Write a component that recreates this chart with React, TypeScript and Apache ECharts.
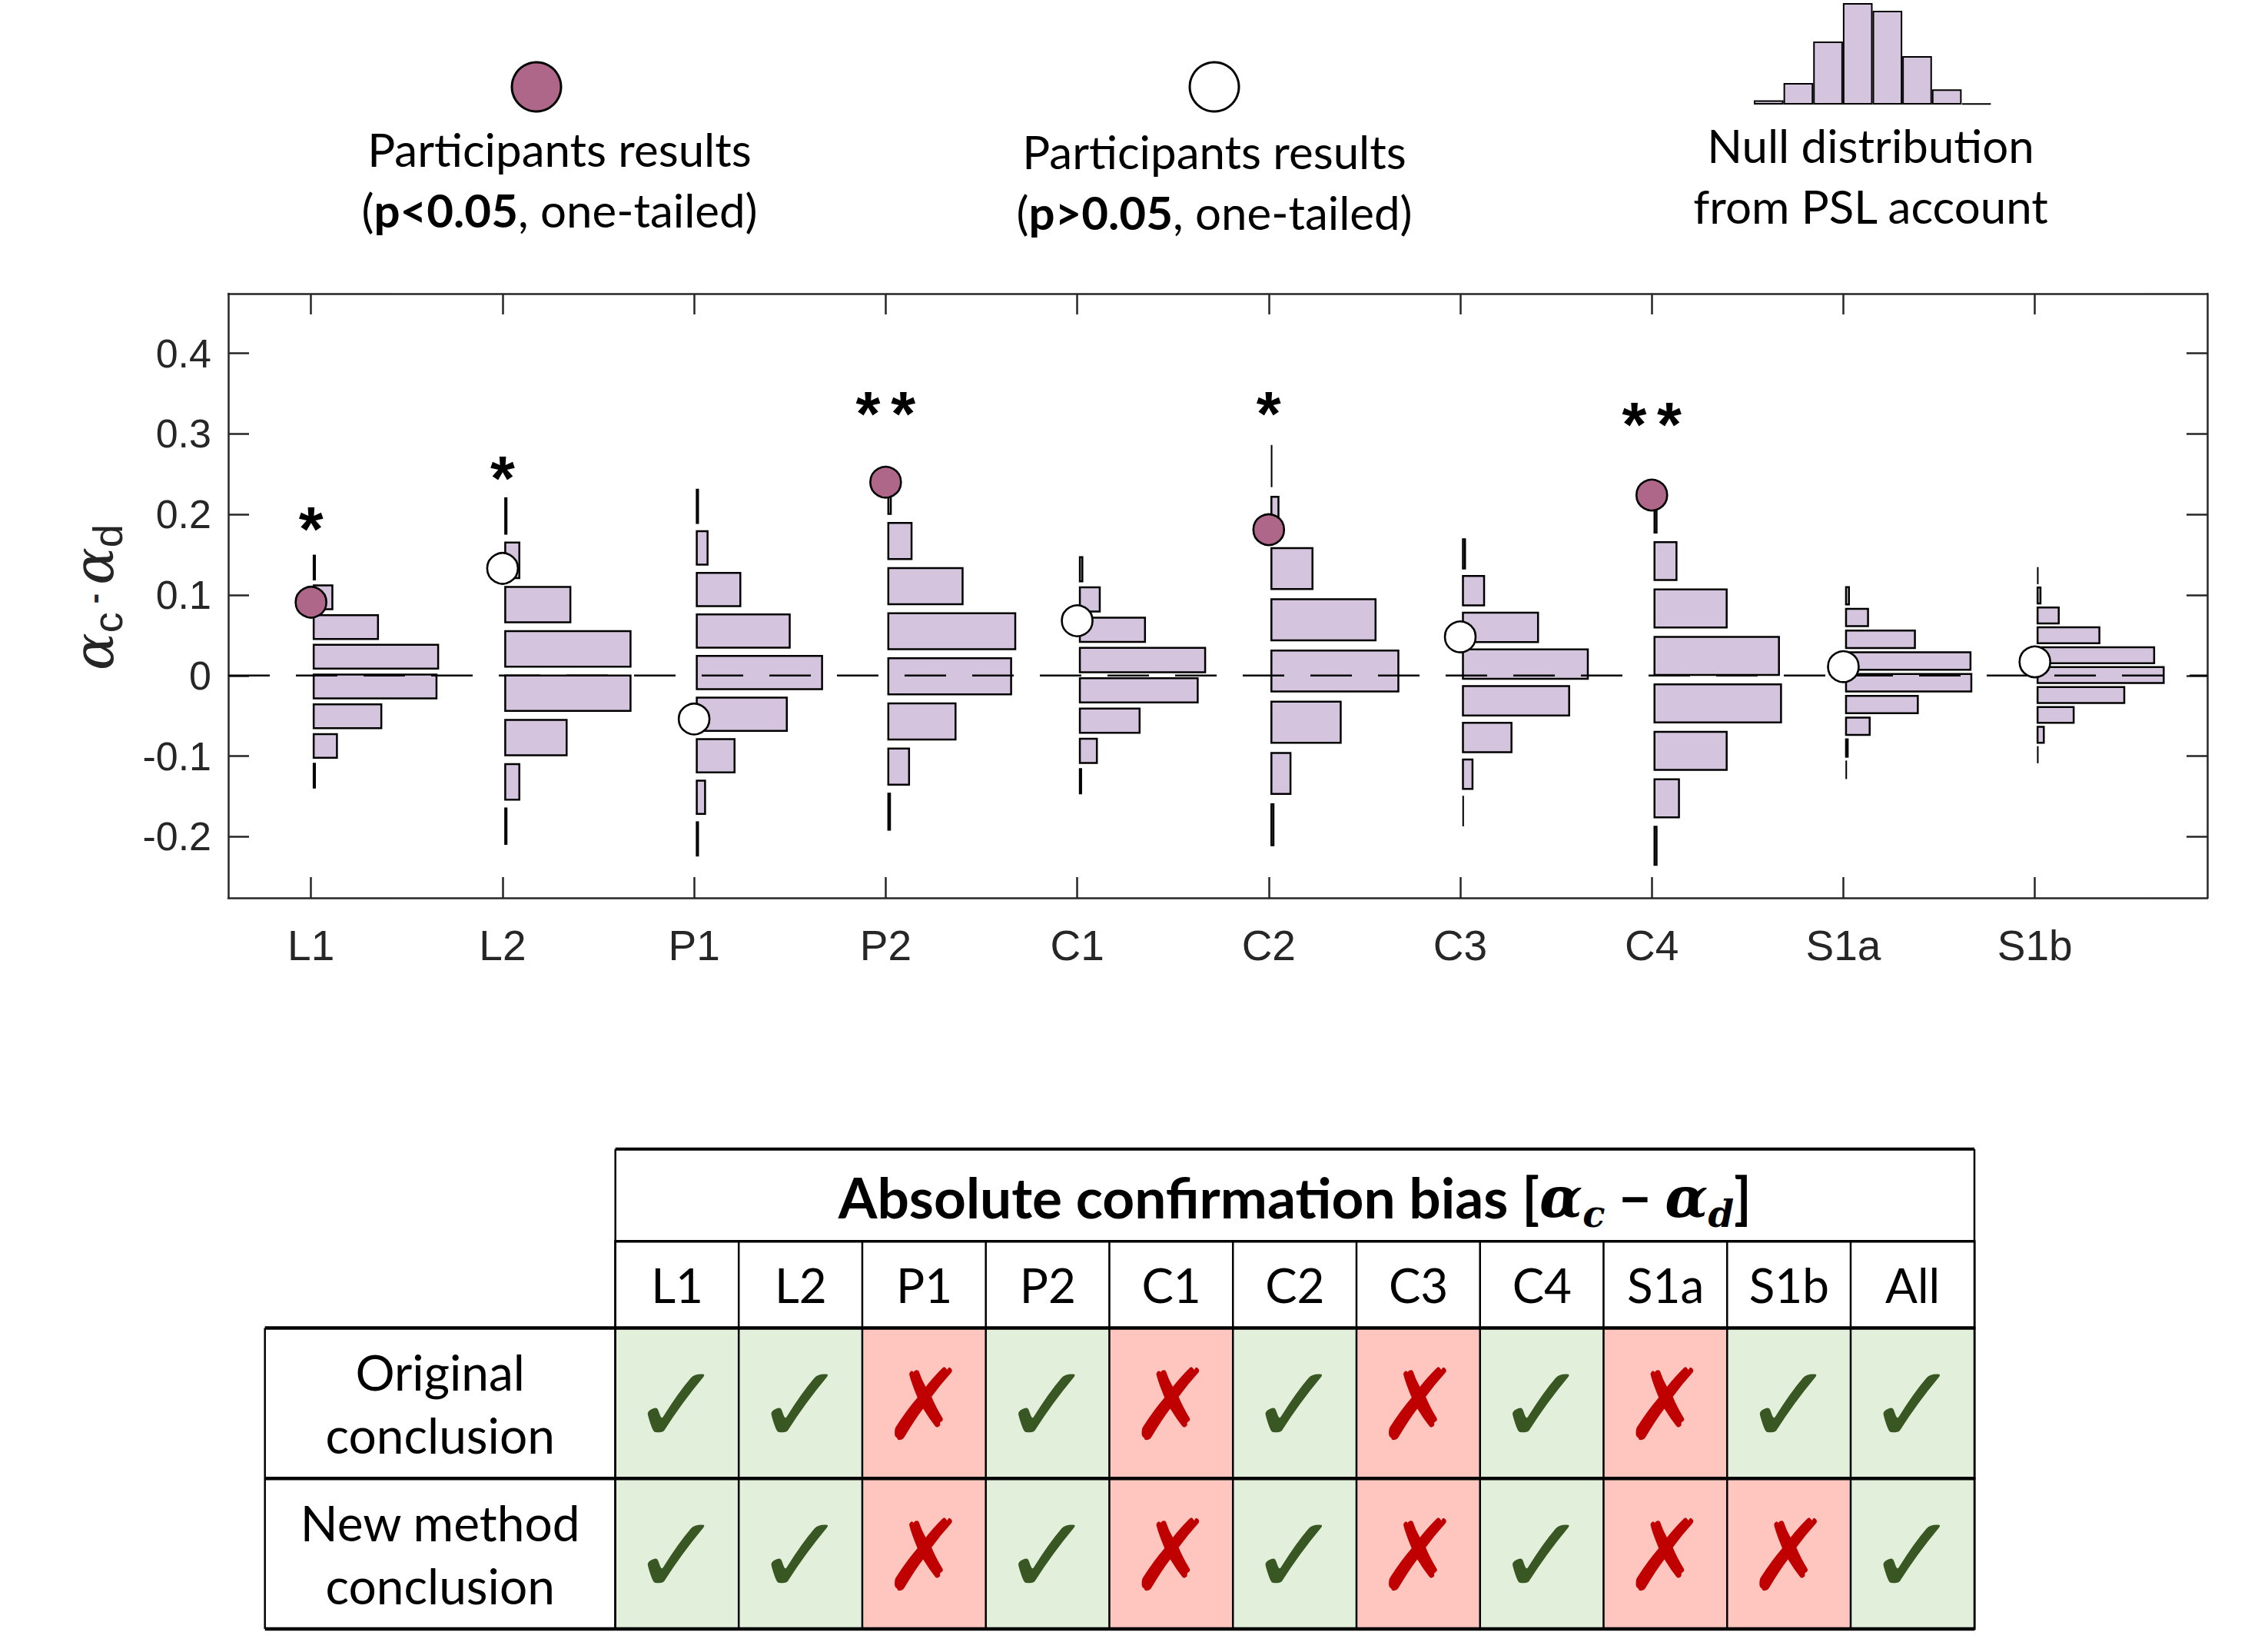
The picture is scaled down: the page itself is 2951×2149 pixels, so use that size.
import React, { useEffect, useRef } from 'react';
import * as echarts from 'echarts';

// ---------- data ----------
const CONDITIONS = ['L1', 'L2', 'P1', 'P2', 'C1', 'C2', 'C3', 'C4', 'S1a', 'S1b'];

// Participants' absolute confirmation bias (alpha_c - alpha_d) per condition
const PARTICIPANT_BIAS = [0.091, 0.133, -0.054, 0.24, 0.068, 0.181, 0.048, 0.224, 0.011, 0.017];
// one-tailed test against the null distribution: p < 0.05
const SIGNIFICANT = [true, false, false, true, false, true, false, true, false, false];
// significance stars and their height
const STARS = ['*', '*', '', '**', '', '*', '', '**', '', ''];
const STAR_Y = [0.191, 0.254, 0, 0.334, 0, 0.334, 0, 0.321, 0, 0];

// Null distributions from the PSL account:
// centre of the top bin, bin width, share of simulations per bin (top to bottom)
const NULL_TOP_BIN = [0.134, 0.198, 0.21, 0.223, 0.132, 0.26, 0.151, 0.201, 0.099, 0.124];
const NULL_BIN_WIDTH = [0.0369, 0.055, 0.0516, 0.056, 0.0376, 0.0636, 0.0456, 0.0589, 0.027, 0.0247];
const NULL_L1 = [0.003, 0.045, 0.155, 0.3, 0.296, 0.163, 0.056, 0.003];
const NULL_L2 = [0.003, 0.034, 0.157, 0.302, 0.302, 0.148, 0.034, 0.003];
const NULL_P1 = [0.003, 0.026, 0.105, 0.224, 0.302, 0.217, 0.091, 0.02, 0.003];
const NULL_P2 = [0.006, 0.056, 0.179, 0.306, 0.296, 0.162, 0.05, 0.004];
const NULL_C1 = [0.006, 0.048, 0.157, 0.302, 0.284, 0.144, 0.041, 0.003];
const NULL_C2 = [0.001, 0.017, 0.099, 0.251, 0.306, 0.167, 0.046, 0.005];
const NULL_C3 = [0.005, 0.051, 0.181, 0.301, 0.256, 0.117, 0.023, 0.001];
const NULL_C4 = [0.005, 0.053, 0.174, 0.3, 0.305, 0.174, 0.059, 0.005];
const NULL_S1A = [0.007, 0.053, 0.166, 0.3, 0.302, 0.173, 0.057, 0.004, 0.001];
const NULL_S1B = [0.001, 0.007, 0.051, 0.149, 0.281, 0.304, 0.209, 0.087, 0.015, 0.001];
const NULL_SHARES = [NULL_L1, NULL_L2, NULL_P1, NULL_P2, NULL_C1, NULL_C2, NULL_C3, NULL_C4, NULL_S1A, NULL_S1B];

const Y_TICKS = [-0.2, -0.1, 0, 0.1, 0.2, 0.3, 0.4];

// Shape of the null distribution used as a legend icon (relative heights)
const LEGEND_NULL_SHAPE = [4.2, 21.3, 62.1, 100, 92.4, 47.7, 15.0, 1.0];

// Conclusions table (1 = bias confirmed, 0 = not confirmed)
const TABLE_COLUMNS = ['L1', 'L2', 'P1', 'P2', 'C1', 'C2', 'C3', 'C4', 'S1a', 'S1b', 'All'];
const TABLE_ROW_LABELS = ['Original\nconclusion', 'New method\nconclusion'];
const ORIGINAL_CONCLUSION = [1, 1, 0, 1, 0, 1, 0, 1, 0, 1, 1];
const NEW_METHOD_CONCLUSION = [1, 1, 0, 1, 0, 1, 0, 1, 0, 0, 1];
const HEADER_CODE = 2; // header cells are plain white

// ---------- styles / layout ----------
const AXIS_COLOR = '#262626';
const LAVENDER = '#D5C4DE';
const MAUVE = '#AE6689';
const CELL_YES = '#E2EFDA';
const CELL_NO = '#FFC6BF';
const MARK_YES = '#385723';
const MARK_NO = '#C00000';

const X_MIN = 0.568;
const X_MAX = 10.9;
const Y_MIN = -0.276;
const Y_MAX = 0.474;
const HIST_OFFSET = 0.014; // histograms start just right of each condition tick
const HIST_SCALE = 2.166; // x units per unit share
const BAR_FILL = 0.8; // bar height as a fraction of the bin width

const MAIN = { left: 297, top: 382, width: 2575, height: 786 };
const TBL = { left: 344.7, labelRight: 800.7, right: 2569, top: 1494.7, titleBottom: 1614.7, headBottom: 1727.5, mid: 1923.2, bottom: 2118.9 };

const CAT_POS = CONDITIONS.map((_, i) => i + 1);

function buildOption() {
  const histData: number[][] = [];
  NULL_SHARES.forEach((shares, i) => {
    shares.forEach((share, j) => {
      histData.push([i + 1, NULL_TOP_BIN[i] - j * NULL_BIN_WIDTH[i], share, NULL_BIN_WIDTH[i]]);
    });
  });

  const markerData = PARTICIPANT_BIAS.map((v, i) => ({
    value: [i + 1, v],
    itemStyle: { color: SIGNIFICANT[i] ? MAUVE : '#ffffff' },
  }));

  // stars are spaced a little apart
  const starData = STARS.map((s, i) => ({ s, i }))
    .filter((d) => d.s.length > 0)
    .map((d) => ({ value: [d.i + 1, STAR_Y[d.i]], name: d.s.split('').join('\u2006') }));

  const bodyData: any[] = [];
  [ORIGINAL_CONCLUSION, NEW_METHOD_CONCLUSION].forEach((row, r) => {
    row.forEach((v, c) => {
      bodyData.push({
        value: [c, r, v],
        label: v
          ? { color: MARK_YES, fontSize: 142, offset: [0, 2] }
          : { color: MARK_NO, fontSize: 128, offset: [0, 2] },
      });
    });
  });

  const mainXAxis = (position: string, labels: boolean) => ({
    gridIndex: 0,
    type: 'value',
    min: X_MIN,
    max: X_MAX,
    position,
    axisLine: { show: true, onZero: false, lineStyle: { color: AXIS_COLOR, width: 2.5 } },
    axisTick: { show: true, inside: true, length: 27, customValues: CAT_POS, lineStyle: { color: AXIS_COLOR, width: 2.5 } },
    axisLabel: labels
      ? {
          show: true,
          customValues: CAT_POS,
          formatter: (v: number) => CONDITIONS[Math.round(v) - 1],
          margin: 34,
          fontSize: 55,
          color: AXIS_COLOR,
          fontFamily: 'Liberation Sans',
        }
      : { show: false },
    splitLine: { show: false },
  });

  const mainYAxis = (position: string, labels: boolean) => ({
    gridIndex: 0,
    type: 'value',
    min: Y_MIN,
    max: Y_MAX,
    position,
    axisLine: { show: true, onZero: false, lineStyle: { color: AXIS_COLOR, width: 2.5 } },
    axisTick: { show: true, inside: true, length: 27, customValues: Y_TICKS, lineStyle: { color: AXIS_COLOR, width: 2.5 } },
    axisLabel: labels
      ? {
          show: true,
          customValues: Y_TICKS,
          formatter: (v: number) => (Math.abs(v) < 1e-9 ? '0' : v.toFixed(1)),
          margin: 22,
          fontSize: 52,
          color: AXIS_COLOR,
          fontFamily: 'Liberation Sans',
        }
      : { show: false },
    splitLine: { show: false },
  });

  const lato = 'Lato';

  const graphic: any[] = [
    // legend: participants' markers
    { type: 'circle', shape: { cx: 698, cy: 113, r: 32 }, style: { fill: MAUVE, stroke: '#000', lineWidth: 3 } },
    { type: 'circle', shape: { cx: 1580, cy: 113, r: 32 }, style: { fill: '#fff', stroke: '#000', lineWidth: 3 } },
    { type: 'text', x: 728, y: 194, style: { text: 'Participants results', fontSize: 60, fontFamily: lato, fill: '#000', align: 'center', verticalAlign: 'middle' } },
    {
      type: 'text', x: 728, y: 273,
      style: {
        text: '{n|(}{b|p<0.05}{n|, one-tailed)}', align: 'center', verticalAlign: 'middle',
        rich: { n: { fontSize: 60, fontFamily: lato, fill: '#000' }, b: { fontSize: 60, fontFamily: lato, fontWeight: 'bold', fill: '#000' } },
      },
    },
    { type: 'text', x: 1580, y: 197, style: { text: 'Participants results', fontSize: 60, fontFamily: lato, fill: '#000', align: 'center', verticalAlign: 'middle' } },
    {
      type: 'text', x: 1580, y: 276,
      style: {
        text: '{n|(}{b|p>0.05}{n|, one-tailed)}', align: 'center', verticalAlign: 'middle',
        rich: { n: { fontSize: 60, fontFamily: lato, fill: '#000' }, b: { fontSize: 60, fontFamily: lato, fontWeight: 'bold', fill: '#000' } },
      },
    },
    { type: 'text', x: 2434, y: 189, style: { text: 'Null distribution', fontSize: 60, fontFamily: lato, fill: '#000', align: 'center', verticalAlign: 'middle' } },
    { type: 'text', x: 2434, y: 268, style: { text: 'from PSL account', fontSize: 60, fontFamily: lato, fill: '#000', align: 'center', verticalAlign: 'middle' } },
    // y axis title
    {
      type: 'text', x: 122, y: 777, rotation: Math.PI / 2,
      style: {
        text: '{a|α}{s|c}{m| - }{a|α}{s|d}', align: 'center', verticalAlign: 'middle',
        rich: {
          a: { fontSize: 72, fontFamily: 'DejaVu Serif', fontStyle: 'italic', fill: AXIS_COLOR, lineHeight: 90, verticalAlign: 'middle' },
          s: { fontSize: 54, fontFamily: 'Liberation Sans', fill: AXIS_COLOR, lineHeight: 54, verticalAlign: 'bottom' },
          m: { fontSize: 40, fontFamily: 'Liberation Sans', fontWeight: 'bold', fill: AXIS_COLOR, lineHeight: 90, verticalAlign: 'middle' },
        },
      },
    },
    // table title row
    {
      type: 'text', x: (TBL.labelRight + TBL.right) / 2, y: (TBL.top + TBL.titleBottom) / 2 + 2, z: 120,
      style: {
        text: '{t|Absolute confirmation bias [}{g|α}{s|c}{t| − }{g|α}{s|d}{t|]}', align: 'center', verticalAlign: 'middle',
        rich: {
          t: { fontSize: 73, fontFamily: lato, fontWeight: 'bold', fill: '#000', lineHeight: 92, verticalAlign: 'middle' },
          g: { fontSize: 73, fontFamily: 'DejaVu Serif', fontWeight: 'bold', fontStyle: 'italic', fill: '#000', lineHeight: 92, verticalAlign: 'middle' },
          s: { fontSize: 48, fontFamily: 'DejaVu Serif', fontWeight: 'bold', fontStyle: 'italic', fill: '#000', lineHeight: 40, verticalAlign: 'bottom' },
        },
      },
    },
  ];

  // table rules
  const hRule = (y: number, x1: number, w: number) => ({ type: 'line', z: 110, shape: { x1, y1: y, x2: TBL.right, y2: y }, style: { stroke: '#000', lineWidth: w } });
  const vRule = (x: number, y1: number, w: number) => ({ type: 'line', z: 110, shape: { x1: x, y1, x2: x, y2: TBL.bottom }, style: { stroke: '#000', lineWidth: w } });
  graphic.push(
    hRule(TBL.top, TBL.labelRight, 4),
    hRule(TBL.titleBottom, TBL.labelRight, 3.5),
    hRule(TBL.headBottom, TBL.left, 4.5),
    hRule(TBL.mid, TBL.left, 4.5),
    hRule(TBL.bottom, TBL.left, 4.5),
    vRule(TBL.left, TBL.headBottom, 2.5),
    vRule(TBL.labelRight, TBL.top, 2.5),
    vRule(TBL.right, TBL.top, 2.5)
  );

  return {
    animation: false,
    backgroundColor: '#ffffff',
    grid: [
      { ...MAIN, containLabel: false, outerBoundsMode: 'none' },
      { left: 2282, top: 4, width: 309, height: 132, containLabel: false, outerBoundsMode: 'none' },
      { left: TBL.labelRight, top: TBL.headBottom, width: TBL.right - TBL.labelRight, height: TBL.bottom - TBL.headBottom, containLabel: false, outerBoundsMode: 'none' },
      { left: TBL.labelRight, top: TBL.titleBottom, width: TBL.right - TBL.labelRight, height: TBL.headBottom - TBL.titleBottom, containLabel: false, outerBoundsMode: 'none' },
    ],
    visualMap: {
      type: 'piecewise',
      show: false,
      seriesIndex: [5, 6],
      dimension: 2,
      pieces: [
        { value: 0, color: CELL_NO },
        { value: 1, color: CELL_YES },
        { value: HEADER_CODE, color: '#ffffff' },
      ],
    },
    xAxis: [
      mainXAxis('bottom', true),
      mainXAxis('top', false),
      { gridIndex: 1, type: 'category', data: LEGEND_NULL_SHAPE.map((_, i) => String(i)), show: false },
      { gridIndex: 2, type: 'category', data: TABLE_COLUMNS, show: false },
      { gridIndex: 3, type: 'category', data: TABLE_COLUMNS, show: false },
    ],
    yAxis: [
      mainYAxis('left', true),
      mainYAxis('right', false),
      { gridIndex: 1, type: 'value', min: 0, max: 100, show: false },
      {
        gridIndex: 2, type: 'category', data: TABLE_ROW_LABELS, inverse: true,
        axisLine: { show: false }, axisTick: { show: false }, splitLine: { show: false },
        axisLabel: { show: true, margin: (TBL.labelRight - TBL.left) / 2, align: 'center', fontSize: 64, fontFamily: lato, color: '#000', lineHeight: 82 },
      },
      { gridIndex: 3, type: 'category', data: ['header'], show: false },
    ],
    series: [
      {
        type: 'custom',
        xAxisIndex: 0,
        yAxisIndex: 0,
        z: 2,
        data: histData,
        encode: { x: 0, y: 1 },
        renderItem: (params: any, api: any) => {
          const x = api.value(0) + HIST_OFFSET;
          const y = api.value(1);
          const share = api.value(2);
          const half = (api.value(3) * BAR_FILL) / 2;
          const a = api.coord([x, y + half]);
          const b = api.coord([x + share * HIST_SCALE, y - half]);
          return {
            type: 'rect',
            shape: { x: a[0], y: a[1], width: Math.max(b[0] - a[0], 0.3), height: b[1] - a[1] },
            style: { fill: LAVENDER, stroke: '#000', lineWidth: share < 0.002 ? 1.5 : 2.5 },
          };
        },
      },
      {
        type: 'line',
        xAxisIndex: 0,
        yAxisIndex: 0,
        z: 3,
        symbol: 'none',
        silent: true,
        data: [[X_MIN, 0], [X_MAX, 0]],
        lineStyle: { color: '#000', width: 2.5, type: [54, 34] },
      },
      {
        type: 'scatter',
        xAxisIndex: 0,
        yAxisIndex: 0,
        z: 4,
        symbol: 'circle',
        symbolSize: 40,
        data: markerData,
        itemStyle: { borderColor: '#000', borderWidth: 2.6, opacity: 1 },
      },
      {
        type: 'scatter',
        xAxisIndex: 0,
        yAxisIndex: 0,
        z: 5,
        symbol: 'circle',
        symbolSize: 2,
        itemStyle: { color: 'rgba(0,0,0,0)', borderWidth: 0 },
        data: starData,
        label: {
          show: true,
          position: 'inside',
          formatter: (p: any) => p.name,
          fontSize: 82,
          fontWeight: 'bold',
          fontFamily: 'Liberation Sans',
          color: '#000',
          opacity: 1,
          offset: [0, 9],
        },
      },
      {
        type: 'bar',
        xAxisIndex: 2,
        yAxisIndex: 2,
        data: LEGEND_NULL_SHAPE,
        barCategoryGap: '0%',
        itemStyle: { color: LAVENDER, borderColor: '#000', borderWidth: 2 },
      },
      {
        type: 'heatmap',
        xAxisIndex: 3,
        yAxisIndex: 3,
        data: bodyData,
        itemStyle: { borderColor: '#000', borderWidth: 2.5 },
        label: {
          show: true,
          formatter: (p: any) => (p.value[2] ? '✓' : '✗'),
          fontSize: 130,
          fontFamily: 'DejaVu Sans',
        },
      },
      {
        type: 'heatmap',
        xAxisIndex: 4,
        yAxisIndex: 4,
        data: TABLE_COLUMNS.map((_, i) => [i, 0, HEADER_CODE]),
        itemStyle: { borderColor: '#000', borderWidth: 2.5 },
        label: {
          show: true,
          formatter: (p: any) => TABLE_COLUMNS[p.value[0]],
          fontSize: 62,
          fontFamily: lato,
          color: '#000',
        },
      },
    ],
    graphic,
  };
}

export default function App() {
  const ref = useRef<HTMLDivElement>(null);
  useEffect(() => {
    if (!ref.current) return;
    const chart = echarts.init(ref.current, null, { renderer: 'svg' });
    chart.setOption(buildOption() as any);
    return () => chart.dispose();
  }, []);
  return (
    <div
      ref={ref}
      style={{ position: 'fixed', left: 0, top: 0, width: 2951, height: 2149, background: '#ffffff' }}
    />
  );
}
